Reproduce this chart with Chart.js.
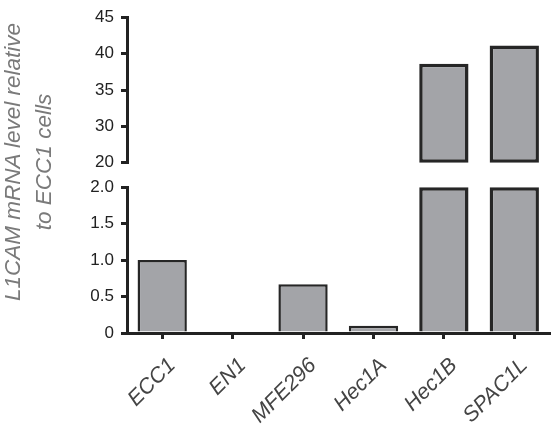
<!DOCTYPE html>
<html>
<head>
<meta charset="utf-8">
<script src="https://cdn.jsdelivr.net/npm/chart.js@4/dist/chart.umd.min.js"></script>
<style>
  body { margin: 0; background: #fff; }
  #wrap { position: relative; width: 552px; height: 432px; overflow: hidden; }
  #upper { position: absolute; left: 0; top: 0; }
  #lower { position: absolute; left: 0; top: 170px; }
  #ytitle {
    position: absolute; left: 28px; top: 162px; width: 340px;
    transform: translate(-50%, -50%) rotate(-90deg);
    font: italic 22.5px "Liberation Sans", Arial, sans-serif; color: #7a7a7a;
    text-align: center; line-height: 31px; white-space: nowrap;
  }
</style>
</head>
<body>
<div id="wrap">
  <canvas id="upper" width="552" height="180"></canvas>
  <canvas id="lower" width="552" height="262"></canvas>
  <div id="ytitle">L1CAM mRNA level relative<br>to ECC1 cells</div>
</div>
<script>
const cells = ['ECC1', 'EN1', 'MFE296', 'Hec1A', 'Hec1B', 'SPAC1L'];
const values = [1.0, 0, 0.67, 0.1, 38.6, 41.1];

// broken axis: lower part 0-2.0, upper part starts at the "20" tick drawn at the 25 slot
const lowerTicks = ['0', '0.5', '1.0', '1.5', '2.0'];
const upperTicks = ['20', '30', '35', '40', '45'];
const lowerMax = 2;
const breakAt = 20;
const upperMin = 25, upperMax = 45;

const fill = '#a3a4a8';
const edge = '#262626';
const borders = [2.5, 2.5, 2.5, 2.5, 3.5, 3.5];
const axisColor = '#222';

function yScale(min, max, step, labels) {
  return {
    min: min, max: max,
    border: {color: axisColor, width: 3},
    grid: {drawOnChartArea: false, drawTicks: true, tickLength: 6, color: axisColor, lineWidth: 3},
    ticks: {
      stepSize: step, padding: 7, color: '#222',
      font: {family: 'Liberation Sans', size: 17},
      callback: (v, i) => labels[i]
    },
    afterFit: s => { s.width = 127; }
  };
}

new Chart(document.getElementById('upper'), {
  type: 'bar',
  data: {
    labels: cells,
    datasets: [{
      data: values.map(v => v > breakAt ? [upperMin, v] : null),
      backgroundColor: fill, borderColor: edge, borderWidth: borders,
      borderSkipped: false, barPercentage: 0.7, categoryPercentage: 1, clip: false
    }]
  },
  options: {
    responsive: false, animation: false,
    layout: {padding: {top: 15, bottom: 16, right: 2.5}},
    plugins: {legend: {display: false}, tooltip: {enabled: false}},
    scales: {
      x: {display: false, offset: true},
      y: yScale(upperMin, upperMax, 5, upperTicks)
    }
  }
});

new Chart(document.getElementById('lower'), {
  type: 'bar',
  data: {
    labels: cells,
    datasets: [{
      data: values.map(v => Math.min(v, lowerMax)),
      backgroundColor: fill, borderColor: edge, borderWidth: borders,
      borderSkipped: 'start', barPercentage: 0.7, categoryPercentage: 1, clip: false
    }]
  },
  options: {
    responsive: false, animation: false,
    layout: {padding: {top: 16, right: 2.5}},
    plugins: {legend: {display: false}, tooltip: {enabled: false}},
    scales: {
      x: {
        offset: true,
        border: {color: axisColor, width: 3},
        grid: {offset: false, drawOnChartArea: false, drawTicks: true, tickLength: 6, color: axisColor, lineWidth: 3},
        ticks: {
          maxRotation: 45, minRotation: 45, padding: 14, labelOffset: 10,
          color: '#444', font: {family: 'Liberation Sans', size: 21.5, style: 'italic'}
        },
        afterFit: s => { s.height = 99; }
      },
      y: yScale(0, lowerMax, 0.5, lowerTicks)
    }
  }
});
</script>
</body>
</html>
